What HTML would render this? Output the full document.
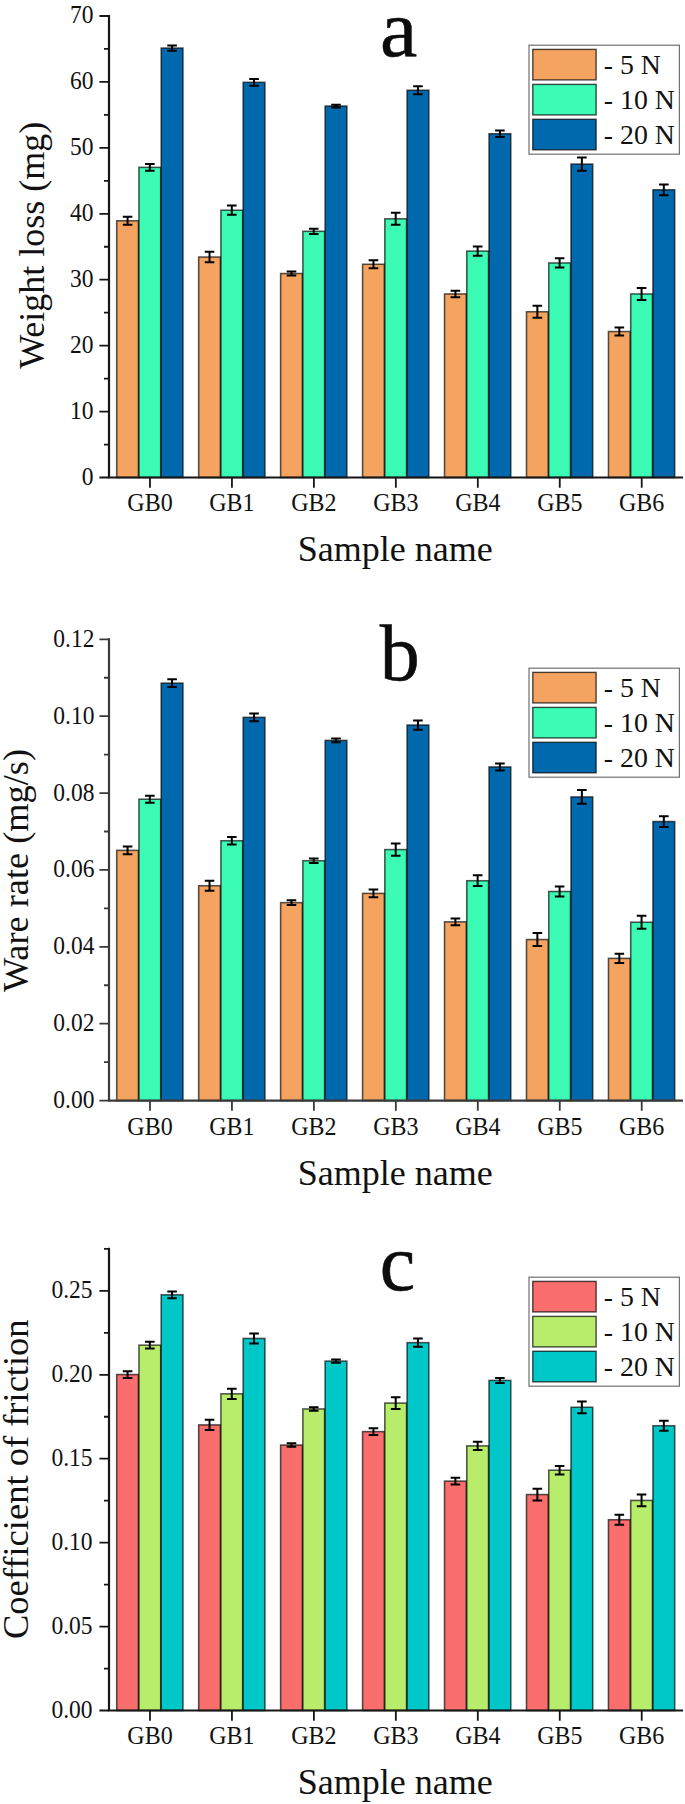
<!DOCTYPE html>
<html lang="en"><head><meta charset="utf-8"><title>Wear charts</title>
<style>html,body{margin:0;padding:0;background:#fff}svg{display:block}</style>
</head><body>
<svg width="685" height="1804" viewBox="0 0 685 1804" font-family='"Liberation Serif", "DejaVu Serif", serif'>
<rect width="685" height="1804" fill="#fff"/>
<g class="chart-a">
<rect x="116.70" y="220.78" width="21.75" height="256.72" fill="#F4A460" stroke="#000" stroke-opacity="0.66" stroke-width="1.55"/>
<rect x="138.95" y="167.38" width="21.75" height="310.12" fill="#3CFBB5" stroke="#000" stroke-opacity="0.66" stroke-width="1.55"/>
<rect x="161.20" y="48.05" width="21.75" height="429.45" fill="#0068AC" stroke="#000" stroke-opacity="0.66" stroke-width="1.55"/>
<rect x="198.66" y="257.04" width="21.75" height="220.46" fill="#F4A460" stroke="#000" stroke-opacity="0.66" stroke-width="1.55"/>
<rect x="220.91" y="210.23" width="21.75" height="267.27" fill="#3CFBB5" stroke="#000" stroke-opacity="0.66" stroke-width="1.55"/>
<rect x="243.16" y="82.33" width="21.75" height="395.17" fill="#0068AC" stroke="#000" stroke-opacity="0.66" stroke-width="1.55"/>
<rect x="280.62" y="273.52" width="21.75" height="203.98" fill="#F4A460" stroke="#000" stroke-opacity="0.66" stroke-width="1.55"/>
<rect x="302.87" y="231.33" width="21.75" height="246.17" fill="#3CFBB5" stroke="#000" stroke-opacity="0.66" stroke-width="1.55"/>
<rect x="325.12" y="106.06" width="21.75" height="371.44" fill="#0068AC" stroke="#000" stroke-opacity="0.66" stroke-width="1.55"/>
<rect x="362.58" y="264.29" width="21.75" height="213.21" fill="#F4A460" stroke="#000" stroke-opacity="0.66" stroke-width="1.55"/>
<rect x="384.83" y="218.80" width="21.75" height="258.70" fill="#3CFBB5" stroke="#000" stroke-opacity="0.66" stroke-width="1.55"/>
<rect x="407.08" y="90.24" width="21.75" height="387.26" fill="#0068AC" stroke="#000" stroke-opacity="0.66" stroke-width="1.55"/>
<rect x="444.53" y="293.96" width="21.75" height="183.54" fill="#F4A460" stroke="#000" stroke-opacity="0.66" stroke-width="1.55"/>
<rect x="466.78" y="251.11" width="21.75" height="226.39" fill="#3CFBB5" stroke="#000" stroke-opacity="0.66" stroke-width="1.55"/>
<rect x="489.03" y="133.75" width="21.75" height="343.75" fill="#0068AC" stroke="#000" stroke-opacity="0.66" stroke-width="1.55"/>
<rect x="526.49" y="311.76" width="21.75" height="165.74" fill="#F4A460" stroke="#000" stroke-opacity="0.66" stroke-width="1.55"/>
<rect x="548.74" y="262.97" width="21.75" height="214.53" fill="#3CFBB5" stroke="#000" stroke-opacity="0.66" stroke-width="1.55"/>
<rect x="570.99" y="164.08" width="21.75" height="313.42" fill="#0068AC" stroke="#000" stroke-opacity="0.66" stroke-width="1.55"/>
<rect x="608.45" y="331.54" width="21.75" height="145.96" fill="#F4A460" stroke="#000" stroke-opacity="0.66" stroke-width="1.55"/>
<rect x="630.70" y="293.96" width="21.75" height="183.54" fill="#3CFBB5" stroke="#000" stroke-opacity="0.66" stroke-width="1.55"/>
<rect x="652.95" y="189.79" width="21.75" height="287.71" fill="#0068AC" stroke="#000" stroke-opacity="0.66" stroke-width="1.55"/>
<path d="M127.58 216.82V224.73M122.78 216.82h9.6M122.78 224.73h9.6" stroke="#000" stroke-width="2" fill="none"/>
<path d="M149.83 164.08V170.67M145.03 164.08h9.6M145.03 170.67h9.6" stroke="#000" stroke-width="2" fill="none"/>
<path d="M172.08 45.41V50.68M167.28 45.41h9.6M167.28 50.68h9.6" stroke="#000" stroke-width="2" fill="none"/>
<path d="M209.54 251.76V262.31M204.74 251.76h9.6M204.74 262.31h9.6" stroke="#000" stroke-width="2" fill="none"/>
<path d="M231.79 205.61V214.84M226.99 205.61h9.6M226.99 214.84h9.6" stroke="#000" stroke-width="2" fill="none"/>
<path d="M254.04 79.03V85.63M249.24 79.03h9.6M249.24 85.63h9.6" stroke="#000" stroke-width="2" fill="none"/>
<path d="M291.49 271.54V275.50M286.69 271.54h9.6M286.69 275.50h9.6" stroke="#000" stroke-width="2" fill="none"/>
<path d="M313.74 228.69V233.96M308.94 228.69h9.6M308.94 233.96h9.6" stroke="#000" stroke-width="2" fill="none"/>
<path d="M335.99 104.74V107.38M331.19 104.74h9.6M331.19 107.38h9.6" stroke="#000" stroke-width="2" fill="none"/>
<path d="M373.45 260.34V268.25M368.65 260.34h9.6M368.65 268.25h9.6" stroke="#000" stroke-width="2" fill="none"/>
<path d="M395.70 212.87V224.73M390.90 212.87h9.6M390.90 224.73h9.6" stroke="#000" stroke-width="2" fill="none"/>
<path d="M417.95 86.28V94.20M413.15 86.28h9.6M413.15 94.20h9.6" stroke="#000" stroke-width="2" fill="none"/>
<path d="M455.41 290.66V297.26M450.61 290.66h9.6M450.61 297.26h9.6" stroke="#000" stroke-width="2" fill="none"/>
<path d="M477.66 246.49V255.72M472.86 246.49h9.6M472.86 255.72h9.6" stroke="#000" stroke-width="2" fill="none"/>
<path d="M499.91 130.46V137.05M495.11 130.46h9.6M495.11 137.05h9.6" stroke="#000" stroke-width="2" fill="none"/>
<path d="M537.36 305.83V317.69M532.56 305.83h9.6M532.56 317.69h9.6" stroke="#000" stroke-width="2" fill="none"/>
<path d="M559.61 258.36V267.59M554.81 258.36h9.6M554.81 267.59h9.6" stroke="#000" stroke-width="2" fill="none"/>
<path d="M581.86 157.49V170.67M577.06 157.49h9.6M577.06 170.67h9.6" stroke="#000" stroke-width="2" fill="none"/>
<path d="M619.32 327.58V335.49M614.52 327.58h9.6M614.52 335.49h9.6" stroke="#000" stroke-width="2" fill="none"/>
<path d="M641.57 288.03V299.89M636.77 288.03h9.6M636.77 299.89h9.6" stroke="#000" stroke-width="2" fill="none"/>
<path d="M663.82 184.39V195.20M659.02 184.39h9.6M659.02 195.20h9.6" stroke="#000" stroke-width="2" fill="none"/>
<path d="M109.0 15.00V478.50M108.0 477.50H683.0" stroke="#161616" stroke-width="2.2" fill="none"/>
<path d="M99.40 477.50H109.0M99.40 411.57H109.0M99.40 345.64H109.0M99.40 279.71H109.0M99.40 213.79H109.0M99.40 147.86H109.0M99.40 81.93H109.0M99.40 16.00H109.0M104.00 444.54H109.0M104.00 378.61H109.0M104.00 312.68H109.0M104.00 246.75H109.0M104.00 180.82H109.0M104.00 114.89H109.0M104.00 48.96H109.0M149.98 477.50v10.2M231.94 477.50v10.2M313.89 477.50v10.2M395.85 477.50v10.2M477.81 477.50v10.2M559.76 477.50v10.2M641.72 477.50v10.2" stroke="#161616" stroke-width="1.8" fill="none"/>
<text transform="translate(93.6 484.9) scale(1 1.065)" font-size="23.5" text-anchor="end" fill="#111">0</text>
<text transform="translate(93.6 419.0) scale(1 1.065)" font-size="23.5" text-anchor="end" fill="#111">10</text>
<text transform="translate(93.6 353.0) scale(1 1.065)" font-size="23.5" text-anchor="end" fill="#111">20</text>
<text transform="translate(93.6 287.1) scale(1 1.065)" font-size="23.5" text-anchor="end" fill="#111">30</text>
<text transform="translate(93.6 221.2) scale(1 1.065)" font-size="23.5" text-anchor="end" fill="#111">40</text>
<text transform="translate(93.6 155.3) scale(1 1.065)" font-size="23.5" text-anchor="end" fill="#111">50</text>
<text transform="translate(93.6 89.3) scale(1 1.065)" font-size="23.5" text-anchor="end" fill="#111">60</text>
<text transform="translate(93.6 23.4) scale(1 1.065)" font-size="23.5" text-anchor="end" fill="#111">70</text>
<text transform="translate(150.0 511.0) scale(1 1.06)" font-size="24" text-anchor="middle" fill="#111">GB0</text>
<text transform="translate(231.9 511.0) scale(1 1.06)" font-size="24" text-anchor="middle" fill="#111">GB1</text>
<text transform="translate(313.9 511.0) scale(1 1.06)" font-size="24" text-anchor="middle" fill="#111">GB2</text>
<text transform="translate(395.9 511.0) scale(1 1.06)" font-size="24" text-anchor="middle" fill="#111">GB3</text>
<text transform="translate(477.8 511.0) scale(1 1.06)" font-size="24" text-anchor="middle" fill="#111">GB4</text>
<text transform="translate(559.8 511.0) scale(1 1.06)" font-size="24" text-anchor="middle" fill="#111">GB5</text>
<text transform="translate(641.7 511.0) scale(1 1.06)" font-size="24" text-anchor="middle" fill="#111">GB6</text>
<text x="395.3" y="560.8" font-size="36" text-anchor="middle" fill="#111">Sample name</text>
<text transform="translate(43.7 245.2) rotate(-90)" font-size="36" text-anchor="middle" fill="#111">Weight loss (mg)</text>
<text transform="translate(398.7 56.1) scale(1.05 1)" font-size="80" text-anchor="middle" fill="#0c0c0c" stroke="#0c0c0c" stroke-width="0.5">a</text>
<rect x="529.0" y="45.2" width="150.4" height="109.0" fill="#fff" stroke="#707070" stroke-width="1.2"/>
<rect x="532.8" y="49.4" width="63.3" height="30.5" fill="#F4A460" stroke="#000" stroke-opacity="0.7" stroke-width="1.4"/>
<text x="603.8" y="73.9" font-size="27.8" fill="#111">- 5 N</text>
<rect x="532.8" y="84.4" width="63.3" height="30.5" fill="#3CFBB5" stroke="#000" stroke-opacity="0.7" stroke-width="1.4"/>
<text x="603.8" y="109.0" font-size="27.8" fill="#111">- 10 N</text>
<rect x="532.8" y="119.3" width="63.3" height="30.5" fill="#0068AC" stroke="#000" stroke-opacity="0.7" stroke-width="1.4"/>
<text x="603.8" y="144.0" font-size="27.8" fill="#111">- 20 N</text>
</g>
<g class="chart-b">
<rect x="116.70" y="850.36" width="21.75" height="250.24" fill="#F4A460" stroke="#000" stroke-opacity="0.66" stroke-width="1.55"/>
<rect x="138.95" y="799.23" width="21.75" height="301.37" fill="#3CFBB5" stroke="#000" stroke-opacity="0.66" stroke-width="1.55"/>
<rect x="161.20" y="683.14" width="21.75" height="417.46" fill="#0068AC" stroke="#000" stroke-opacity="0.66" stroke-width="1.55"/>
<rect x="198.66" y="885.73" width="21.75" height="214.87" fill="#F4A460" stroke="#000" stroke-opacity="0.66" stroke-width="1.55"/>
<rect x="220.91" y="840.75" width="21.75" height="259.85" fill="#3CFBB5" stroke="#000" stroke-opacity="0.66" stroke-width="1.55"/>
<rect x="243.16" y="717.35" width="21.75" height="383.25" fill="#0068AC" stroke="#000" stroke-opacity="0.66" stroke-width="1.55"/>
<rect x="280.62" y="902.64" width="21.75" height="197.96" fill="#F4A460" stroke="#000" stroke-opacity="0.66" stroke-width="1.55"/>
<rect x="302.87" y="860.74" width="21.75" height="239.86" fill="#3CFBB5" stroke="#000" stroke-opacity="0.66" stroke-width="1.55"/>
<rect x="325.12" y="740.42" width="21.75" height="360.18" fill="#0068AC" stroke="#000" stroke-opacity="0.66" stroke-width="1.55"/>
<rect x="362.58" y="893.41" width="21.75" height="207.19" fill="#F4A460" stroke="#000" stroke-opacity="0.66" stroke-width="1.55"/>
<rect x="384.83" y="849.59" width="21.75" height="251.01" fill="#3CFBB5" stroke="#000" stroke-opacity="0.66" stroke-width="1.55"/>
<rect x="407.08" y="725.04" width="21.75" height="375.56" fill="#0068AC" stroke="#000" stroke-opacity="0.66" stroke-width="1.55"/>
<rect x="444.53" y="921.86" width="21.75" height="178.74" fill="#F4A460" stroke="#000" stroke-opacity="0.66" stroke-width="1.55"/>
<rect x="466.78" y="880.73" width="21.75" height="219.87" fill="#3CFBB5" stroke="#000" stroke-opacity="0.66" stroke-width="1.55"/>
<rect x="489.03" y="766.94" width="21.75" height="333.66" fill="#0068AC" stroke="#000" stroke-opacity="0.66" stroke-width="1.55"/>
<rect x="526.49" y="939.54" width="21.75" height="161.06" fill="#F4A460" stroke="#000" stroke-opacity="0.66" stroke-width="1.55"/>
<rect x="548.74" y="891.49" width="21.75" height="209.11" fill="#3CFBB5" stroke="#000" stroke-opacity="0.66" stroke-width="1.55"/>
<rect x="570.99" y="796.93" width="21.75" height="303.67" fill="#0068AC" stroke="#000" stroke-opacity="0.66" stroke-width="1.55"/>
<rect x="608.45" y="958.38" width="21.75" height="142.22" fill="#F4A460" stroke="#000" stroke-opacity="0.66" stroke-width="1.55"/>
<rect x="630.70" y="922.25" width="21.75" height="178.35" fill="#3CFBB5" stroke="#000" stroke-opacity="0.66" stroke-width="1.55"/>
<rect x="652.95" y="821.53" width="21.75" height="279.07" fill="#0068AC" stroke="#000" stroke-opacity="0.66" stroke-width="1.55"/>
<path d="M127.58 846.52V854.20M122.78 846.52h9.6M122.78 854.20h9.6" stroke="#000" stroke-width="2" fill="none"/>
<path d="M149.83 795.77V802.69M145.03 795.77h9.6M145.03 802.69h9.6" stroke="#000" stroke-width="2" fill="none"/>
<path d="M172.08 679.29V686.98M167.28 679.29h9.6M167.28 686.98h9.6" stroke="#000" stroke-width="2" fill="none"/>
<path d="M209.54 880.73V890.72M204.74 880.73h9.6M204.74 890.72h9.6" stroke="#000" stroke-width="2" fill="none"/>
<path d="M231.79 836.91V844.59M226.99 836.91h9.6M226.99 844.59h9.6" stroke="#000" stroke-width="2" fill="none"/>
<path d="M254.04 713.51V721.20M249.24 713.51h9.6M249.24 721.20h9.6" stroke="#000" stroke-width="2" fill="none"/>
<path d="M291.49 900.33V904.95M286.69 900.33h9.6M286.69 904.95h9.6" stroke="#000" stroke-width="2" fill="none"/>
<path d="M313.74 858.43V863.05M308.94 858.43h9.6M308.94 863.05h9.6" stroke="#000" stroke-width="2" fill="none"/>
<path d="M335.99 738.50V742.34M331.19 738.50h9.6M331.19 742.34h9.6" stroke="#000" stroke-width="2" fill="none"/>
<path d="M373.45 889.57V897.26M368.65 889.57h9.6M368.65 897.26h9.6" stroke="#000" stroke-width="2" fill="none"/>
<path d="M395.70 843.44V855.74M390.90 843.44h9.6M390.90 855.74h9.6" stroke="#000" stroke-width="2" fill="none"/>
<path d="M417.95 720.43V729.65M413.15 720.43h9.6M413.15 729.65h9.6" stroke="#000" stroke-width="2" fill="none"/>
<path d="M455.41 918.40V925.32M450.61 918.40h9.6M450.61 925.32h9.6" stroke="#000" stroke-width="2" fill="none"/>
<path d="M477.66 875.35V886.11M472.86 875.35h9.6M472.86 886.11h9.6" stroke="#000" stroke-width="2" fill="none"/>
<path d="M499.91 763.48V770.40M495.11 763.48h9.6M495.11 770.40h9.6" stroke="#000" stroke-width="2" fill="none"/>
<path d="M537.36 933.01V946.08M532.56 933.01h9.6M532.56 946.08h9.6" stroke="#000" stroke-width="2" fill="none"/>
<path d="M559.61 886.50V896.49M554.81 886.50h9.6M554.81 896.49h9.6" stroke="#000" stroke-width="2" fill="none"/>
<path d="M581.86 790.01V803.85M577.06 790.01h9.6M577.06 803.85h9.6" stroke="#000" stroke-width="2" fill="none"/>
<path d="M619.32 953.77V962.99M614.52 953.77h9.6M614.52 962.99h9.6" stroke="#000" stroke-width="2" fill="none"/>
<path d="M641.57 915.71V928.78M636.77 915.71h9.6M636.77 928.78h9.6" stroke="#000" stroke-width="2" fill="none"/>
<path d="M663.82 816.15V826.91M659.02 816.15h9.6M659.02 826.91h9.6" stroke="#000" stroke-width="2" fill="none"/>
<path d="M109.0 638.30V1101.60M108.0 1100.60H683.0" stroke="#3a3a3a" stroke-width="2.2" fill="none"/>
<path d="M99.40 1100.60H109.0M99.40 1023.72H109.0M99.40 946.83H109.0M99.40 869.95H109.0M99.40 793.07H109.0M99.40 716.18H109.0M99.40 639.30H109.0M104.00 1062.16H109.0M104.00 985.27H109.0M104.00 908.39H109.0M104.00 831.51H109.0M104.00 754.62H109.0M104.00 677.74H109.0M149.98 1100.60v10.2M231.94 1100.60v10.2M313.89 1100.60v10.2M395.85 1100.60v10.2M477.81 1100.60v10.2M559.76 1100.60v10.2M641.72 1100.60v10.2" stroke="#3a3a3a" stroke-width="1.8" fill="none"/>
<text transform="translate(94.4 1108.0) scale(1 1.065)" font-size="23.5" text-anchor="end" fill="#111">0.00</text>
<text transform="translate(94.4 1031.1) scale(1 1.065)" font-size="23.5" text-anchor="end" fill="#111">0.02</text>
<text transform="translate(94.4 954.2) scale(1 1.065)" font-size="23.5" text-anchor="end" fill="#111">0.04</text>
<text transform="translate(94.4 877.3) scale(1 1.065)" font-size="23.5" text-anchor="end" fill="#111">0.06</text>
<text transform="translate(94.4 800.5) scale(1 1.065)" font-size="23.5" text-anchor="end" fill="#111">0.08</text>
<text transform="translate(94.4 723.6) scale(1 1.065)" font-size="23.5" text-anchor="end" fill="#111">0.10</text>
<text transform="translate(94.4 646.7) scale(1 1.065)" font-size="23.5" text-anchor="end" fill="#111">0.12</text>
<text transform="translate(150.0 1134.5) scale(1 1.06)" font-size="24" text-anchor="middle" fill="#111">GB0</text>
<text transform="translate(231.9 1134.5) scale(1 1.06)" font-size="24" text-anchor="middle" fill="#111">GB1</text>
<text transform="translate(313.9 1134.5) scale(1 1.06)" font-size="24" text-anchor="middle" fill="#111">GB2</text>
<text transform="translate(395.9 1134.5) scale(1 1.06)" font-size="24" text-anchor="middle" fill="#111">GB3</text>
<text transform="translate(477.8 1134.5) scale(1 1.06)" font-size="24" text-anchor="middle" fill="#111">GB4</text>
<text transform="translate(559.8 1134.5) scale(1 1.06)" font-size="24" text-anchor="middle" fill="#111">GB5</text>
<text transform="translate(641.7 1134.5) scale(1 1.06)" font-size="24" text-anchor="middle" fill="#111">GB6</text>
<text x="395.3" y="1184.6" font-size="36" text-anchor="middle" fill="#111">Sample name</text>
<text transform="translate(27.5 870.5) rotate(-90)" font-size="36.3" text-anchor="middle" fill="#111">Ware rate (mg/s)</text>
<text transform="translate(399.8 679.7) scale(1 1)" font-size="80" text-anchor="middle" fill="#0c0c0c" stroke="#0c0c0c" stroke-width="0.5">b</text>
<rect x="529.0" y="668.2" width="150.4" height="109.0" fill="#fff" stroke="#707070" stroke-width="1.2"/>
<rect x="532.8" y="672.4" width="63.3" height="30.5" fill="#F4A460" stroke="#000" stroke-opacity="0.7" stroke-width="1.4"/>
<text x="603.8" y="696.9" font-size="27.8" fill="#111">- 5 N</text>
<rect x="532.8" y="707.4" width="63.3" height="30.5" fill="#3CFBB5" stroke="#000" stroke-opacity="0.7" stroke-width="1.4"/>
<text x="603.8" y="732.0" font-size="27.8" fill="#111">- 10 N</text>
<rect x="532.8" y="742.3" width="63.3" height="30.5" fill="#0068AC" stroke="#000" stroke-opacity="0.7" stroke-width="1.4"/>
<text x="603.8" y="767.0" font-size="27.8" fill="#111">- 20 N</text>
</g>
<g class="chart-c">
<rect x="116.70" y="1374.54" width="21.75" height="335.96" fill="#FA6E6E" stroke="#000" stroke-opacity="0.66" stroke-width="1.55"/>
<rect x="138.95" y="1345.17" width="21.75" height="365.33" fill="#B7ED6A" stroke="#000" stroke-opacity="0.66" stroke-width="1.55"/>
<rect x="161.20" y="1294.81" width="21.75" height="415.69" fill="#00C8C8" stroke="#000" stroke-opacity="0.66" stroke-width="1.55"/>
<rect x="198.66" y="1424.90" width="21.75" height="285.60" fill="#FA6E6E" stroke="#000" stroke-opacity="0.66" stroke-width="1.55"/>
<rect x="220.91" y="1393.84" width="21.75" height="316.66" fill="#B7ED6A" stroke="#000" stroke-opacity="0.66" stroke-width="1.55"/>
<rect x="243.16" y="1338.45" width="21.75" height="372.05" fill="#00C8C8" stroke="#000" stroke-opacity="0.66" stroke-width="1.55"/>
<rect x="280.62" y="1445.04" width="21.75" height="265.46" fill="#FA6E6E" stroke="#000" stroke-opacity="0.66" stroke-width="1.55"/>
<rect x="302.87" y="1408.95" width="21.75" height="301.55" fill="#B7ED6A" stroke="#000" stroke-opacity="0.66" stroke-width="1.55"/>
<rect x="325.12" y="1361.11" width="21.75" height="349.39" fill="#00C8C8" stroke="#000" stroke-opacity="0.66" stroke-width="1.55"/>
<rect x="362.58" y="1431.61" width="21.75" height="278.89" fill="#FA6E6E" stroke="#000" stroke-opacity="0.66" stroke-width="1.55"/>
<rect x="384.83" y="1403.08" width="21.75" height="307.42" fill="#B7ED6A" stroke="#000" stroke-opacity="0.66" stroke-width="1.55"/>
<rect x="407.08" y="1342.65" width="21.75" height="367.85" fill="#00C8C8" stroke="#000" stroke-opacity="0.66" stroke-width="1.55"/>
<rect x="444.53" y="1481.13" width="21.75" height="229.37" fill="#FA6E6E" stroke="#000" stroke-opacity="0.66" stroke-width="1.55"/>
<rect x="466.78" y="1445.88" width="21.75" height="264.62" fill="#B7ED6A" stroke="#000" stroke-opacity="0.66" stroke-width="1.55"/>
<rect x="489.03" y="1380.42" width="21.75" height="330.08" fill="#00C8C8" stroke="#000" stroke-opacity="0.66" stroke-width="1.55"/>
<rect x="526.49" y="1494.56" width="21.75" height="215.94" fill="#FA6E6E" stroke="#000" stroke-opacity="0.66" stroke-width="1.55"/>
<rect x="548.74" y="1470.22" width="21.75" height="240.28" fill="#B7ED6A" stroke="#000" stroke-opacity="0.66" stroke-width="1.55"/>
<rect x="570.99" y="1407.27" width="21.75" height="303.23" fill="#00C8C8" stroke="#000" stroke-opacity="0.66" stroke-width="1.55"/>
<rect x="608.45" y="1519.74" width="21.75" height="190.76" fill="#FA6E6E" stroke="#000" stroke-opacity="0.66" stroke-width="1.55"/>
<rect x="630.70" y="1500.44" width="21.75" height="210.06" fill="#B7ED6A" stroke="#000" stroke-opacity="0.66" stroke-width="1.55"/>
<rect x="652.95" y="1425.74" width="21.75" height="284.76" fill="#00C8C8" stroke="#000" stroke-opacity="0.66" stroke-width="1.55"/>
<path d="M127.58 1371.18V1377.90M122.78 1371.18h9.6M122.78 1377.90h9.6" stroke="#000" stroke-width="2" fill="none"/>
<path d="M149.83 1341.81V1348.52M145.03 1341.81h9.6M145.03 1348.52h9.6" stroke="#000" stroke-width="2" fill="none"/>
<path d="M172.08 1291.45V1298.16M167.28 1291.45h9.6M167.28 1298.16h9.6" stroke="#000" stroke-width="2" fill="none"/>
<path d="M209.54 1419.86V1429.93M204.74 1419.86h9.6M204.74 1429.93h9.6" stroke="#000" stroke-width="2" fill="none"/>
<path d="M231.79 1388.81V1398.88M226.99 1388.81h9.6M226.99 1398.88h9.6" stroke="#000" stroke-width="2" fill="none"/>
<path d="M254.04 1333.41V1343.49M249.24 1333.41h9.6M249.24 1343.49h9.6" stroke="#000" stroke-width="2" fill="none"/>
<path d="M291.49 1443.36V1446.72M286.69 1443.36h9.6M286.69 1446.72h9.6" stroke="#000" stroke-width="2" fill="none"/>
<path d="M313.74 1407.27V1410.63M308.94 1407.27h9.6M308.94 1410.63h9.6" stroke="#000" stroke-width="2" fill="none"/>
<path d="M335.99 1359.43V1362.79M331.19 1359.43h9.6M331.19 1362.79h9.6" stroke="#000" stroke-width="2" fill="none"/>
<path d="M373.45 1428.26V1434.97M368.65 1428.26h9.6M368.65 1434.97h9.6" stroke="#000" stroke-width="2" fill="none"/>
<path d="M395.70 1397.20V1408.95M390.90 1397.20h9.6M390.90 1408.95h9.6" stroke="#000" stroke-width="2" fill="none"/>
<path d="M417.95 1338.45V1346.84M413.15 1338.45h9.6M413.15 1346.84h9.6" stroke="#000" stroke-width="2" fill="none"/>
<path d="M455.41 1477.77V1484.49M450.61 1477.77h9.6M450.61 1484.49h9.6" stroke="#000" stroke-width="2" fill="none"/>
<path d="M477.66 1441.68V1450.08M472.86 1441.68h9.6M472.86 1450.08h9.6" stroke="#000" stroke-width="2" fill="none"/>
<path d="M499.91 1377.90V1382.93M495.11 1377.90h9.6M495.11 1382.93h9.6" stroke="#000" stroke-width="2" fill="none"/>
<path d="M537.36 1488.69V1500.44M532.56 1488.69h9.6M532.56 1500.44h9.6" stroke="#000" stroke-width="2" fill="none"/>
<path d="M559.61 1466.02V1474.42M554.81 1466.02h9.6M554.81 1474.42h9.6" stroke="#000" stroke-width="2" fill="none"/>
<path d="M581.86 1401.40V1413.15M577.06 1401.40h9.6M577.06 1413.15h9.6" stroke="#000" stroke-width="2" fill="none"/>
<path d="M619.32 1514.70V1524.78M614.52 1514.70h9.6M614.52 1524.78h9.6" stroke="#000" stroke-width="2" fill="none"/>
<path d="M641.57 1494.56V1506.31M636.77 1494.56h9.6M636.77 1506.31h9.6" stroke="#000" stroke-width="2" fill="none"/>
<path d="M663.82 1420.70V1430.77M659.02 1420.70h9.6M659.02 1430.77h9.6" stroke="#000" stroke-width="2" fill="none"/>
<path d="M109.0 1247.70V1711.50M108.0 1710.50H683.0" stroke="#161616" stroke-width="2.2" fill="none"/>
<path d="M99.40 1710.50H109.0M99.40 1626.57H109.0M99.40 1542.64H109.0M99.40 1458.71H109.0M99.40 1374.78H109.0M99.40 1290.85H109.0M104.00 1668.54H109.0M104.00 1584.61H109.0M104.00 1500.67H109.0M104.00 1416.74H109.0M104.00 1332.81H109.0M104.00 1248.88H109.0M149.98 1710.50v10.2M231.94 1710.50v10.2M313.89 1710.50v10.2M395.85 1710.50v10.2M477.81 1710.50v10.2M559.76 1710.50v10.2M641.72 1710.50v10.2" stroke="#161616" stroke-width="1.8" fill="none"/>
<text transform="translate(92.6 1717.7) scale(1 1.065)" font-size="23.5" text-anchor="end" fill="#111">0.00</text>
<text transform="translate(92.6 1633.8) scale(1 1.065)" font-size="23.5" text-anchor="end" fill="#111">0.05</text>
<text transform="translate(92.6 1549.8) scale(1 1.065)" font-size="23.5" text-anchor="end" fill="#111">0.10</text>
<text transform="translate(92.6 1465.9) scale(1 1.065)" font-size="23.5" text-anchor="end" fill="#111">0.15</text>
<text transform="translate(92.6 1382.0) scale(1 1.065)" font-size="23.5" text-anchor="end" fill="#111">0.20</text>
<text transform="translate(92.6 1298.0) scale(1 1.065)" font-size="23.5" text-anchor="end" fill="#111">0.25</text>
<text transform="translate(150.0 1743.8) scale(1 1.06)" font-size="24" text-anchor="middle" fill="#111">GB0</text>
<text transform="translate(231.9 1743.8) scale(1 1.06)" font-size="24" text-anchor="middle" fill="#111">GB1</text>
<text transform="translate(313.9 1743.8) scale(1 1.06)" font-size="24" text-anchor="middle" fill="#111">GB2</text>
<text transform="translate(395.9 1743.8) scale(1 1.06)" font-size="24" text-anchor="middle" fill="#111">GB3</text>
<text transform="translate(477.8 1743.8) scale(1 1.06)" font-size="24" text-anchor="middle" fill="#111">GB4</text>
<text transform="translate(559.8 1743.8) scale(1 1.06)" font-size="24" text-anchor="middle" fill="#111">GB5</text>
<text transform="translate(641.7 1743.8) scale(1 1.06)" font-size="24" text-anchor="middle" fill="#111">GB6</text>
<text x="395.3" y="1793.6" font-size="36" text-anchor="middle" fill="#111">Sample name</text>
<text transform="translate(27.5 1479.2) rotate(-90)" font-size="36.5" text-anchor="middle" fill="#111">Coefficient of friction</text>
<text transform="translate(397.5 1289.6) scale(1 1)" font-size="80" text-anchor="middle" fill="#0c0c0c" stroke="#0c0c0c" stroke-width="0.5">c</text>
<rect x="529.0" y="1277.2" width="150.4" height="109.0" fill="#fff" stroke="#707070" stroke-width="1.2"/>
<rect x="532.8" y="1281.4" width="63.3" height="30.5" fill="#FA6E6E" stroke="#000" stroke-opacity="0.7" stroke-width="1.4"/>
<text x="603.8" y="1305.9" font-size="27.8" fill="#111">- 5 N</text>
<rect x="532.8" y="1316.4" width="63.3" height="30.5" fill="#B7ED6A" stroke="#000" stroke-opacity="0.7" stroke-width="1.4"/>
<text x="603.8" y="1341.0" font-size="27.8" fill="#111">- 10 N</text>
<rect x="532.8" y="1351.3" width="63.3" height="30.5" fill="#00C8C8" stroke="#000" stroke-opacity="0.7" stroke-width="1.4"/>
<text x="603.8" y="1376.0" font-size="27.8" fill="#111">- 20 N</text>
</g>
</svg>
</body></html>
